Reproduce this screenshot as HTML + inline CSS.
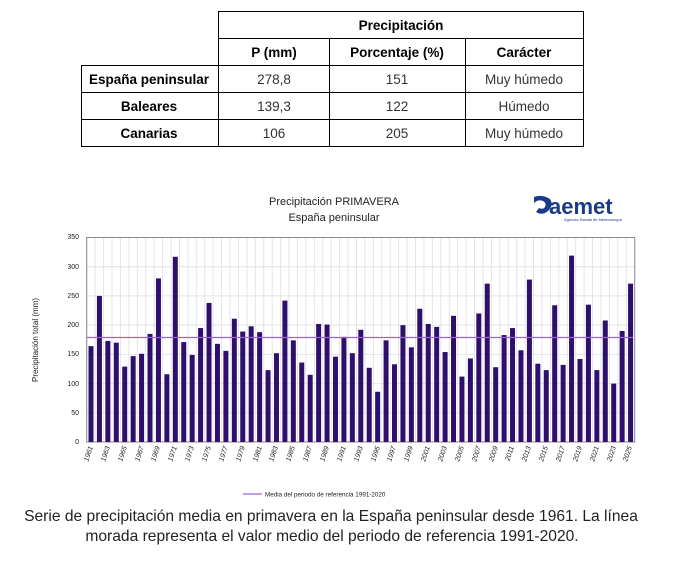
<!DOCTYPE html>
<html><head><meta charset="utf-8"><style>
body{margin:0;background:#fff;width:689px;height:563px;overflow:hidden;font-family:"Liberation Sans",sans-serif}
</style></head><body>
<svg id="s" width="689" height="563" xmlns="http://www.w3.org/2000/svg" font-family="Liberation Sans, sans-serif">
<g stroke="#000" stroke-width="1" fill="none">
<line x1="218" y1="11.5" x2="584" y2="11.5"/>
<line x1="218" y1="38.5" x2="584" y2="38.5"/>
<line x1="81" y1="65.5" x2="584" y2="65.5"/>
<line x1="81" y1="92.5" x2="584" y2="92.5"/>
<line x1="81" y1="119.5" x2="584" y2="119.5"/>
<line x1="81" y1="146.5" x2="584" y2="146.5"/>
<line x1="81.5" y1="65" x2="81.5" y2="147"/>
<line x1="218.5" y1="11" x2="218.5" y2="147"/>
<line x1="329.5" y1="38" x2="329.5" y2="147"/>
<line x1="465.5" y1="38" x2="465.5" y2="147"/>
<line x1="583.5" y1="11" x2="583.5" y2="147"/>
</g>
<g font-size="13.5" text-anchor="middle" fill="#000">
<text x="401" y="30" font-weight="bold">Precipitación</text>
<text x="274" y="57" font-weight="bold">P (mm)</text>
<text x="397" y="57" font-weight="bold">Porcentaje (%)</text>
<text x="524" y="57" font-weight="bold">Carácter</text>
<text x="149" y="84" font-weight="bold">España peninsular</text>
<text x="149" y="111" font-weight="bold">Baleares</text>
<text x="149" y="138" font-weight="bold">Canarias</text>
<text x="274" y="84" fill="#333">278,8</text><text x="397" y="84" fill="#333">151</text><text x="524" y="84" fill="#333">Muy húmedo</text>
<text x="274" y="111" fill="#333">139,3</text><text x="397" y="111" fill="#333">122</text><text x="524" y="111" fill="#333">Húmedo</text>
<text x="274" y="138" fill="#333">106</text><text x="397" y="138" fill="#333">205</text><text x="524" y="138" fill="#333">Muy húmedo</text>
</g>
<g font-size="11" text-anchor="middle" fill="#222">
<text x="334" y="205">Precipitación PRIMAVERA</text>
<text x="334" y="221">España peninsular</text>
</g>
<g>
<path d="M534 197 q8 -3 16 2 q4 6 -2 12 q-6 5 -12 1 l3 -4 q4 2 6 -1 q2 -4 -2 -6 q-5 -2 -9 2z" fill="#1a3a8a"/>
<text x="549" y="214" font-size="22" font-weight="bold" fill="#1a3a8a">aemet</text>
<text x="564" y="221" font-size="4" fill="#1a3a8a">Agencia Estatal de Meteorología</text>
</g>
<g id="grid" stroke="#e4e4e4" stroke-width="1"></g>
<rect x="86.7" y="237.5" width="548" height="204.5" fill="none" stroke="#888"/>
<g id="bars" fill="#2e0f6b"></g>
<line x1="87" y1="337.5" x2="633" y2="337.5" stroke="#9966cc" stroke-width="1.2"/>
<g font-size="7" text-anchor="end" fill="#222">
<text x="79" y="239">350</text><text x="79" y="269">300</text><text x="79" y="298">250</text><text x="79" y="327">200</text><text x="79" y="356">150</text><text x="79" y="386">100</text><text x="79" y="415">50</text><text x="79" y="444">0</text>
</g>
<text transform="translate(38 340) rotate(-90)" font-size="8" text-anchor="middle" fill="#222">Precipitación total (mm)</text>
<g id="yl" font-size="7" font-style="italic" fill="#222" text-anchor="end">
<text transform="translate(93 447) rotate(-72)">1961</text>
<text transform="translate(110 447) rotate(-72)">1963</text>
<text transform="translate(127 447) rotate(-72)">1965</text>
<text transform="translate(144 447) rotate(-72)">1967</text>
<text transform="translate(160 447) rotate(-72)">1969</text>
<text transform="translate(177 447) rotate(-72)">1971</text>
<text transform="translate(194 447) rotate(-72)">1973</text>
<text transform="translate(211 447) rotate(-72)">1975</text>
<text transform="translate(228 447) rotate(-72)">1977</text>
<text transform="translate(245 447) rotate(-72)">1979</text>
<text transform="translate(262 447) rotate(-72)">1981</text>
<text transform="translate(278 447) rotate(-72)">1983</text>
<text transform="translate(295 447) rotate(-72)">1985</text>
<text transform="translate(312 447) rotate(-72)">1987</text>
<text transform="translate(329 447) rotate(-72)">1989</text>
<text transform="translate(346 447) rotate(-72)">1991</text>
<text transform="translate(363 447) rotate(-72)">1993</text>
<text transform="translate(380 447) rotate(-72)">1995</text>
<text transform="translate(396 447) rotate(-72)">1997</text>
<text transform="translate(413 447) rotate(-72)">1999</text>
<text transform="translate(430 447) rotate(-72)">2001</text>
<text transform="translate(447 447) rotate(-72)">2003</text>
<text transform="translate(464 447) rotate(-72)">2005</text>
<text transform="translate(481 447) rotate(-72)">2007</text>
<text transform="translate(498 447) rotate(-72)">2009</text>
<text transform="translate(514 447) rotate(-72)">2011</text>
<text transform="translate(531 447) rotate(-72)">2013</text>
<text transform="translate(548 447) rotate(-72)">2015</text>
<text transform="translate(565 447) rotate(-72)">2017</text>
<text transform="translate(582 447) rotate(-72)">2019</text>
<text transform="translate(599 447) rotate(-72)">2021</text>
<text transform="translate(616 447) rotate(-72)">2023</text>
<text transform="translate(632 447) rotate(-72)">2025</text>
</g>
<line x1="243" y1="494" x2="262" y2="494" stroke="#9966cc" stroke-width="1.2"/>
<text x="265" y="496.5" font-size="6.3" fill="#222">Media del periodo de referencia 1991-2020</text>
<g font-size="15.6" text-anchor="middle" fill="#222">
<text x="331" y="521">Serie de precipitación media en primavera en la España peninsular desde 1961. La línea</text>
<text x="332" y="541">morada representa el valor medio del periodo de referencia 1991-2020.</text>
</g>
</svg>
<script>
var v=[164,250,173,170,129,147,151,185,280,116,317,171,149,195,238,168,156,211,189,198,188,123,152,242,174,136,115,202,201,146,180,152,192,127,86,174,133,200,162,228,202,197,154,216,112,143,220,271,128,183,195,157,278,134,123,234,132,319,142,235,123,208,100,190,271];
var ns="http://www.w3.org/2000/svg",b=document.getElementById("bars"),g=document.getElementById("grid");
var x0=86.7,w=548/65,y0=442,k=204.5/350;
for(var i=0;i<65;i++){var r=document.createElementNS(ns,"rect");var h=v[i]*k;r.setAttribute("x",x0+w*i+1.8);r.setAttribute("width",5);r.setAttribute("y",y0-h);r.setAttribute("height",h);b.appendChild(r);
var l=document.createElementNS(ns,"line");var xx=x0+w*i;l.setAttribute("x1",xx);l.setAttribute("x2",xx);l.setAttribute("y1",237.5);l.setAttribute("y2",442);g.appendChild(l);}
for(var j=1;j<7;j++){var l=document.createElementNS(ns,"line");var yy=y0-j*50*k;l.setAttribute("x1",86.7);l.setAttribute("x2",634.7);l.setAttribute("y1",yy);l.setAttribute("y2",yy);g.appendChild(l);}
</script>
</body></html>
